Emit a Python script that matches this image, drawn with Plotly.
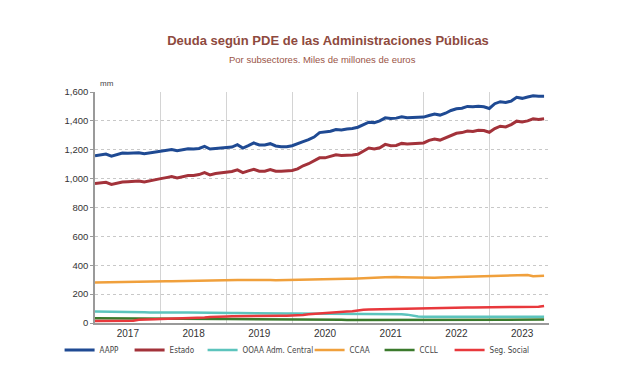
import plotly.graph_objects as go

months = list(range(83))  # Jan 2017 .. Nov 2023, monthly index
year_labels = ["2017", "2018", "2019", "2020", "2021", "2022", "2023"]
year_mid = [6, 18, 30, 42, 54, 66, 78]
year_sep = [12, 24, 36, 48, 60, 72]
y_ticks = [0, 200, 400, 600, 800, 1000, 1200, 1400, 1600]

aapp = [1158, 1165, 1170, 1156, 1167, 1177, 1175, 1177, 1179, 1172, 1179, 1186,
        1191, 1198, 1202, 1193, 1200, 1207, 1205, 1209, 1223, 1205, 1209, 1212,
        1214, 1219, 1235, 1212, 1228, 1247, 1233, 1233, 1242, 1226, 1221, 1221,
        1228, 1240, 1256, 1270, 1288, 1319, 1321, 1328, 1340, 1337, 1344, 1347,
        1356, 1374, 1391, 1388, 1400, 1421, 1416, 1419, 1428, 1421, 1423, 1423,
        1426, 1437, 1447, 1440, 1453, 1472, 1484, 1488, 1500, 1498, 1502, 1498,
        1486, 1519, 1533, 1528, 1537, 1563, 1556, 1565, 1574, 1570, 1570]
estado = [967, 970, 974, 960, 970, 977, 979, 979, 984, 977, 986, 995,
          1000, 1007, 1014, 1005, 1012, 1021, 1021, 1028, 1042, 1026, 1035, 1040,
          1043, 1049, 1061, 1042, 1054, 1065, 1051, 1051, 1063, 1051, 1051, 1054,
          1056, 1068, 1089, 1103, 1121, 1144, 1144, 1154, 1165, 1161, 1161, 1164,
          1169, 1192, 1212, 1205, 1214, 1237, 1228, 1230, 1244, 1240, 1244, 1247,
          1247, 1265, 1274, 1267, 1281, 1300, 1314, 1319, 1330, 1326, 1335, 1333,
          1321, 1347, 1363, 1358, 1374, 1398, 1393, 1400, 1414, 1409, 1414]
ooaa = [79, 79, 79, 78, 78, 77, 77, 76, 75, 74, 73, 72,
        72, 72, 72, 72, 72, 72, 71, 71, 71, 70, 70, 70,
        70, 69, 69, 68, 68, 67, 67, 66, 66, 66, 65, 65,
        65, 65, 64, 64, 64, 63, 63, 63, 63, 62, 62, 62,
        62, 63, 63, 63, 63, 63, 62, 62, 61, 58, 50, 45,
        44, 44, 44, 44, 43, 43, 43, 43, 43, 43, 43, 43,
        43, 43, 43, 43, 43, 43, 43, 43, 43, 43, 43]
ccaa = [280, 281, 281, 282, 283, 283, 284, 284, 285, 286, 286, 287,
        288, 289, 289, 290, 290, 291, 292, 292, 293, 293, 294, 294,
        295, 296, 297, 297, 298, 299, 300, 299, 298, 296, 297, 298,
        300, 300, 301, 302, 303, 304, 304, 305, 305, 305, 306, 306,
        307, 309, 311, 313, 315, 317, 319, 318, 317, 316, 316, 315,
        312, 313, 314, 316, 317, 318, 319, 319, 320, 321, 321, 322,
        323, 325, 327, 329, 331, 333, 333, 333, 324, 326, 328]
ccll = [33, 33, 33, 33, 33, 32, 32, 32, 32, 32, 31, 31,
        30, 30, 30, 30, 30, 29, 29, 29, 28, 28, 28, 28,
        27, 27, 26, 25, 24, 23, 22, 22, 22, 22, 23, 23,
        24, 24, 24, 24, 24, 24, 24, 23, 23, 22, 20, 20,
        22, 23, 24, 24, 24, 24, 24, 24, 24, 24, 24, 24,
        24, 24, 24, 24, 24, 24, 24, 24, 24, 24, 24, 24,
        24, 24, 24, 24, 24, 24, 24, 24, 24, 24, 24]
segsoc = [14, 14, 14, 14, 14, 14, 15, 15, 22, 25, 26, 26,
          27, 28, 28, 30, 33, 33, 34, 36, 38, 41, 44, 44,
          45, 46, 47, 48, 48, 49, 49, 50, 50, 51, 51, 51,
          51, 53, 56, 60, 63, 67, 71, 74, 76, 79, 80, 81,
          88, 92, 94, 95, 95, 96, 96, 97, 97, 98, 98, 99,
          100, 101, 102, 103, 104, 105, 106, 107, 108, 108, 109, 109,
          110, 110, 110, 111, 111, 111, 111, 112, 112, 112, 118]

series = [
    ("AAPP", aapp, "#1f4a93", 3, 25),
    ("Estado", estado, "#a3323a", 3, 28),
    ("OOAA Adm. Central", ooaa, "#5cc4bd", 2.5, 62),
    ("CCAA", ccaa, "#f0a03c", 2.5, 25),
    ("CCLL", ccll, "#3b7a2c", 2.5, 25),
    ("Seg. Social", segsoc, "#e8383c", 2.5, 60),
]

fig = go.Figure()
for name, vals, color, w, lw in series:
    fig.add_trace(go.Scatter(x=months, y=vals, name=name, mode="lines",
                             line=dict(color=color, width=w),
                             legendwidth=lw))

fig.update_layout(
    width=640, height=384,
    margin=dict(l=87, r=99, t=84, b=69),
    paper_bgcolor="white", plot_bgcolor="white",
    font=dict(family="Liberation Sans, Arial, sans-serif", color="#333333"),
    title=dict(text="<b>Deuda según PDE de las Administraciones Públicas</b>",
               x=0.5, xanchor="center", y=1 - 32 / 384, yanchor="middle",
               font=dict(size=13, color="#8e4a3e")),
    showlegend=True,
    legend=dict(orientation="h", x=-0.078, xanchor="left", y=-0.117, yanchor="middle",
                font=dict(size=8, color="#444444",
                          family="Liberation Sans Narrow, DejaVu Sans Condensed, Arial Narrow, sans-serif"),
                itemwidth=30, tracegroupgap=0, bgcolor="rgba(0,0,0,0)"),
    xaxis=dict(range=[0, 82.9], tickmode="array", tickvals=year_mid, ticktext=year_labels,
               showgrid=False, zeroline=False, showline=True, linecolor="#9a9a9a", linewidth=1.5,
               ticks="", tickfont=dict(size=10, color="#333333"),
               minor=dict(tickmode="array", tickvals=year_sep, showgrid=True,
                          gridcolor="#d4d4d4", gridwidth=1.2, ticks="")),
    yaxis=dict(range=[0, 1600], tickmode="array", tickvals=y_ticks, tickformat=",",
               showgrid=True, gridcolor="#c8c8c8", griddash="dot", gridwidth=1,
               zeroline=False, showline=True, linecolor="#9a9a9a", linewidth=1.5,
               ticks="outside", ticklen=3, tickcolor="#9a9a9a",
               tickfont=dict(size=9.5, color="#333333")),
    annotations=[
        dict(text="Por subsectores. Miles de millones de euros", xref="paper", yref="paper",
             x=0.5, y=(384 - 61 - 59) / 231, xanchor="center", yanchor="middle",
             showarrow=False, font=dict(size=9.5, color="#9a5446")),
        dict(text="mm", xref="paper", yref="paper", x=0, y=1, xshift=3, yshift=2,
             xanchor="left", yanchor="bottom", showarrow=False,
             font=dict(size=8, color="#444444")),
    ],
)

fig.write_html("out.html")
